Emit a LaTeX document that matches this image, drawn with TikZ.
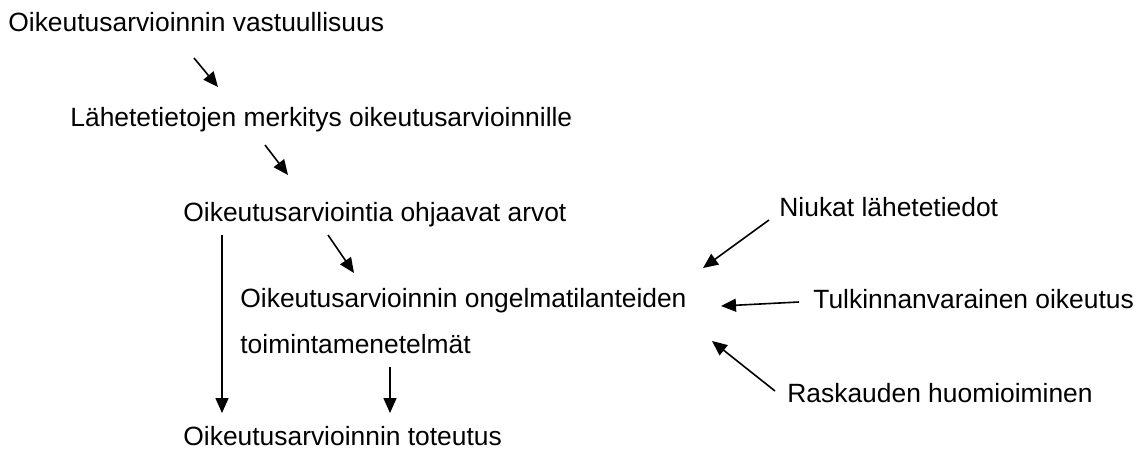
\documentclass[tikz,border=0pt]{standalone}
\usepackage{fontspec}
\setmainfont{Liberation Sans}
\usetikzlibrary{arrows.meta}

\begin{document}
\begin{tikzpicture}[x=0.5pt,y=-0.5pt,
  label_node/.style={anchor=base west,inner sep=0pt,font=\fontsize{13.2}{16}\selectfont},
  flow_arrow/.style={line width=0.8pt,-{Triangle[length=7.5pt,width=6.5pt]}}]

 		\useasboundingbox (0,0) rectangle (1142,450);

 		\node[label_node] (vastuu) at (8,31) {Oikeutusarvioinnin vastuullisuus};
 		\node[label_node] (lahete) at (70,126) {Lähetetietojen merkitys oikeutusarvioinnille};
 		\node[label_node] (arvot) at (183,221) {Oikeutusarviointia ohjaavat arvot};
 		\node[label_node] (ongelma) at (240,307) {Oikeutusarvioinnin ongelmatilanteiden};
 		\node[label_node] (menetelma) at (240,353) {toimintamenetelmät};
 		\node[label_node] (toteutus) at (183,445) {Oikeutusarvioinnin toteutus};
 		\node[label_node] (niukat) at (779,216) {Niukat lähetetiedot};
 		\node[label_node] (tulkinta) at (813,308) {Tulkinnanvarainen oikeutus};
 		\node[label_node] (raskaus) at (787,402) {Raskauden huomioiminen};

 		\coordinate (a1) at (194,58);   \coordinate (b1) at (218,87);
 		\coordinate (a2) at (265,145);  \coordinate (b2) at (288,175);
 		\coordinate (a3) at (328,235);  \coordinate (b3) at (354,273);
 		\coordinate (a4) at (222,235);  \coordinate (b4) at (222,413);
 		\coordinate (a5) at (390,367);  \coordinate (b5) at (390,413);
 		\coordinate (a6) at (769,220);  \coordinate (b6) at (703,268);
 		\coordinate (a7) at (799,302);  \coordinate (b7) at (721,306);
 		\coordinate (a8) at (775,391);  \coordinate (b8) at (712,341);

 		\foreach \i in {1,...,8}
 		  \draw[flow_arrow] (a\i) -- (b\i);

\end{tikzpicture}
\end{document}
